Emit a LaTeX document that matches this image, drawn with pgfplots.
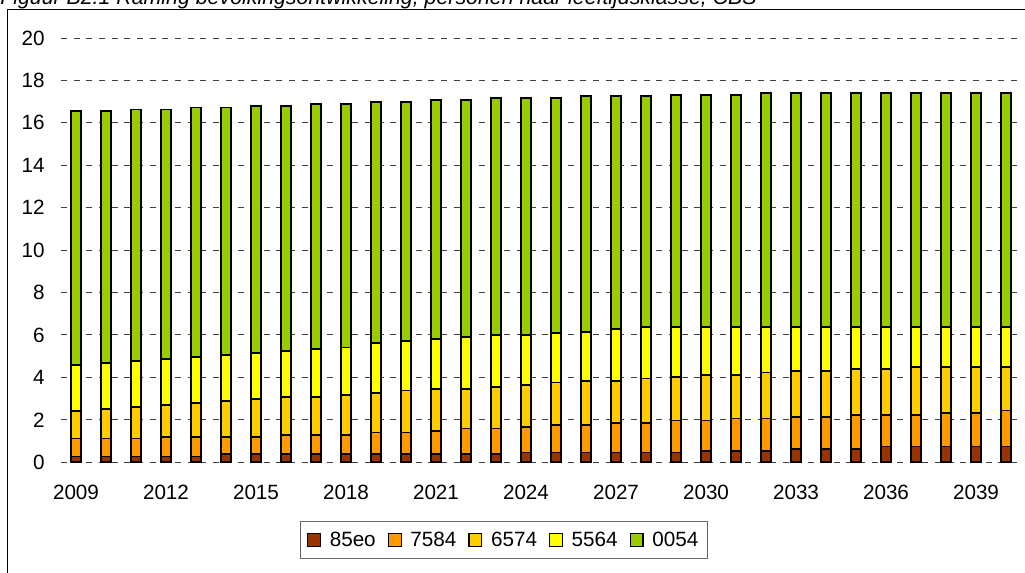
\documentclass[border=0pt]{standalone}
\usepackage{fontspec}
\setmainfont{Liberation Sans}
\usepackage{pgfplots}
\pgfplotsset{compat=1.18}
\usepackage{pgfplotstable}

\definecolor{c85}{RGB}{153,51,0}
\definecolor{c75}{RGB}{255,153,0}
\definecolor{c65}{RGB}{255,204,0}
\definecolor{c55}{RGB}{255,255,0}
\definecolor{c00}{RGB}{153,204,0}

% x = 0..31 for 2009..2040, segments per age group (miljoen)
\pgfplotstableread{
x  a    b    c    d    e
0  0.27 0.85 1.30 2.17 11.96
1  0.27 0.85 1.40 2.15 11.88
2  0.27 0.85 1.49 2.17 11.85
3  0.27 0.94 1.49 2.16 11.77
4  0.27 0.94 1.57 2.17 11.77
5  0.38 0.83 1.68 2.17 11.66
6  0.38 0.83 1.78 2.18 11.64
7  0.38 0.91 1.79 2.17 11.56
8  0.38 0.91 1.79 2.25 11.56
9  0.38 0.91 1.89 2.23 11.48
10 0.38 1.02 1.87 2.34 11.37
11 0.38 1.02 1.98 2.33 11.27
12 0.38 1.10 1.98 2.34 11.27
13 0.38 1.21 1.87 2.44 11.17
14 0.38 1.21 1.96 2.46 11.15
15 0.46 1.21 1.98 2.36 11.15
16 0.46 1.30 2.00 2.32 11.08
17 0.46 1.30 2.09 2.31 11.09
18 0.46 1.41 1.98 2.42 10.98
19 0.46 1.41 2.08 2.42 10.88
20 0.46 1.51 2.04 2.36 10.96
21 0.53 1.44 2.13 2.27 10.96
22 0.53 1.53 2.04 2.27 10.96
23 0.53 1.53 2.17 2.14 11.05
24 0.63 1.51 2.17 2.06 11.05
25 0.63 1.51 2.17 2.06 11.05
26 0.63 1.60 2.16 1.98 11.05
27 0.74 1.49 2.16 1.98 11.05
28 0.74 1.49 2.25 1.89 11.05
29 0.74 1.59 2.15 1.89 11.05
30 0.74 1.59 2.15 1.89 11.05
31 0.74 1.70 2.04 1.89 11.05
}\bevolking

\newcommand{\lbl}{\fontsize{15.5}{18}\selectfont}

\begin{document}
\begin{tikzpicture}
\useasboundingbox (0,0) rectangle (768.75pt,-429pt);
\draw[line width=0.8pt] (5.6pt,-440pt) -- (5.6pt,-7pt) -- (780pt,-7pt);
\node[anchor=base west, inner sep=0pt, font=\itshape\fontsize{16}{18}\selectfont]
  at (0pt,-3.6pt) {Figuur B2.1 Raming bevolkingsontwikkeling, personen naar leeftijdsklasse, CBS};

\begin{axis}[
    at={(45.75pt,-346.7pt)}, anchor=south west,
    scale only axis,
    width=720pt, height=318.2pt,
    ybar stacked,
    bar width=7.4pt,
    xmin=-0.5, xmax=31.5,
    ymin=0, ymax=20,
    ytick distance=2,
    xtick={0,3,...,30},
    xticklabels={2009,2012,2015,2018,2021,2024,2027,2030,2033,2036,2039},
    axis line style={draw=none},
    major tick length=0pt,
    tick style={draw=none},
    ymajorgrids=true,
    grid style={dash pattern=on 4.5pt off 5pt, line width=0.75pt, black!75},
    /pgf/number format/assume math mode=true,
    yticklabel style={font=\lbl, anchor=east, inner sep=0pt, xshift=-12pt},
    xticklabel style={font=\lbl, anchor=north, inner sep=0pt, yshift=-17pt},
    every axis plot/.append style={draw=black, line width=1.35pt},
    legend image code/.code={\draw[#1, line width=0.9pt] (0pt,-4.8pt) rectangle (9.6pt,4.8pt);},
    legend style={at={(0.4615,-0.183)}, anchor=center, legend columns=5,
        draw=black!60, line width=0.6pt, font=\lbl,
        inner xsep=5pt, inner ysep=6pt,
        /tikz/every odd column/.append style={column sep=4.5pt},
        /tikz/every even column/.append style={column sep=7pt}},
]
\addplot[fill=c85] table[x=x, y=a] {\bevolking};
\addlegendentry{85eo}
\addplot[fill=c75] table[x=x, y=b] {\bevolking};
\addlegendentry{7584}
\addplot[fill=c65] table[x=x, y=c] {\bevolking};
\addlegendentry{6574}
\addplot[fill=c55] table[x=x, y=d] {\bevolking};
\addlegendentry{5564}
\addplot[fill=c00] table[x=x, y=e] {\bevolking};
\addlegendentry{0054}
\end{axis}
\end{tikzpicture}
\end{document}
